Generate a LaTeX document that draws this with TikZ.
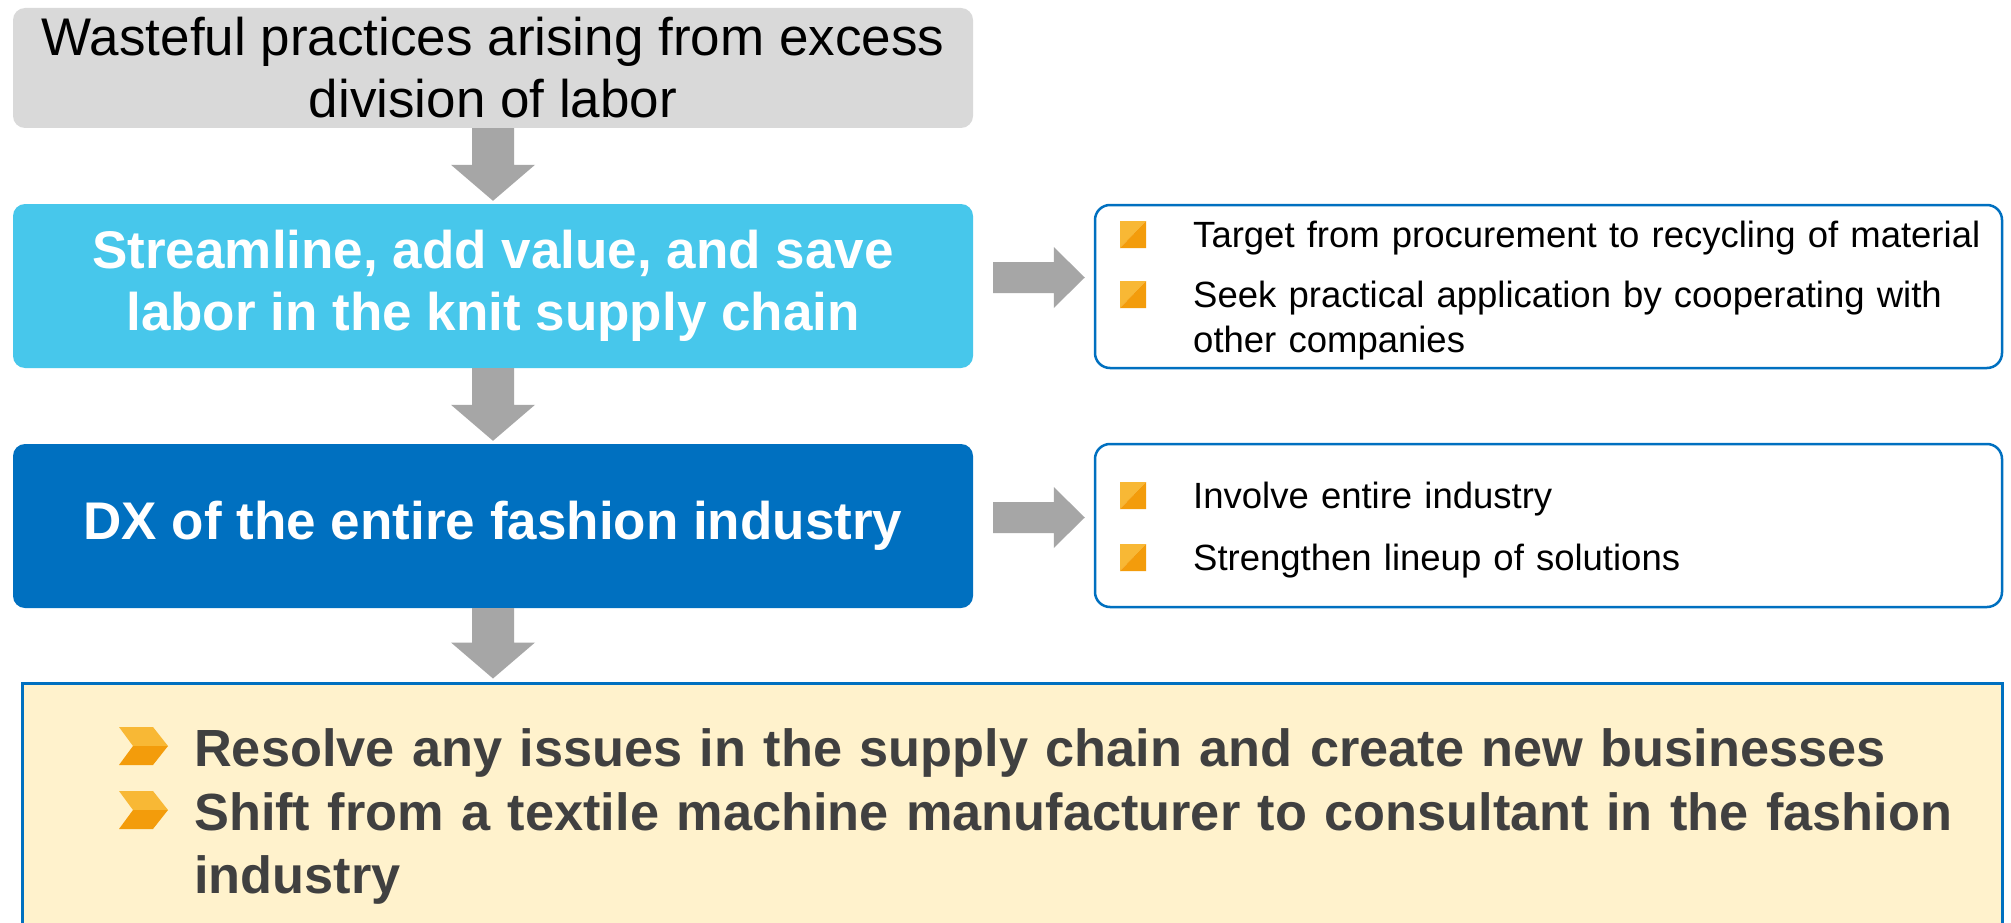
\documentclass[tikz,border=0pt]{standalone}
\usepackage{fontspec}
\setmainfont{Liberation Sans}
\usetikzlibrary{calc}
\definecolor{graybox}{HTML}{D9D9D9}
\definecolor{cyanbox}{HTML}{47C7EB}
\definecolor{bluebox}{HTML}{0070C0}
\definecolor{arrowgray}{HTML}{A6A6A6}
\definecolor{cream}{HTML}{FFF2CC}
\definecolor{darktext}{HTML}{404040}
\definecolor{orangelight}{HTML}{F8B835}
\definecolor{orangedark}{HTML}{F39C0B}
\newcommand\downblock[2]{%
  \fill[arrowgray] let \p1=(#1.south), \p2=(#2.north) in
    (\x1-21pt,\y1) -- (\x1+21pt,\y1) -- (\x1+21pt,\y2+39pt) -- (\x1+42pt,\y2+39pt)
    -- (\x1,\y2+3pt) -- (\x1-42pt,\y2+39pt) -- (\x1-21pt,\y2+39pt) -- cycle;}
\newcommand\rightblock[2]{%
  \fill[arrowgray] let \p1=(#1.east), \p2=(#2.west) in
    (\x1+20pt,\y1+24pt) -- (\x2-40pt,\y1+24pt) -- (\x2-40pt,\y1+39pt) -- (\x2-9pt,\y1+8.5pt)
    -- (\x2-40pt,\y1-22pt) -- (\x2-40pt,\y1-7pt) -- (\x1+20pt,\y1-7pt) -- cycle;}
\newcommand\sqbul[2]{%
  \fill[orangelight] (#1-73,#2+1) -- (#1-73,#2-26) -- (#1-47,#2-26) -- cycle;
  \fill[orangedark] (#1-73,#2+1) -- (#1-47,#2-26) -- (#1-47,#2+1) -- cycle;}
\newcommand\chevbul[1]{%
  \fill[orangelight] (119,#1-38) -- (153,#1-38) -- (168,#1-19) -- (133,#1-19) -- cycle;
  \fill[orangedark] (133,#1-19) -- (168,#1-19) -- (153,#1) -- (119,#1) -- cycle;}
\begin{document}
\begin{tikzpicture}[x=1pt,y=-1pt,
  mainbox/.style={rounded corners=12pt, minimum width=960pt, minimum height=#1,
    inner sep=0pt, align=center},
  regtext/.style={font=\fontsize{53}{62}\selectfont},
  boldtext/.style={font=\fontsize{53}{62}\selectfont\bfseries, text=white},
  sidebox/.style={draw=bluebox, line width=2.5pt, rounded corners=15pt, fill=white,
    minimum width=907pt, minimum height=163pt, inner sep=0pt},
  sidetext/.style={anchor=base west, inner sep=0pt, align=left, text width=800pt,
    font=\fontsize{36.5}{45}\selectfont, text=black},
  restext/.style={anchor=base west, inner sep=0pt, align=left, text width=1790pt,
    font=\fontsize{52.3}{63}\selectfont\bfseries, text=darktext}]
\useasboundingbox (0,0) rectangle (2011,923);
\fill[white] (0,0) rectangle (2011,923);

\node[mainbox=120pt, fill=graybox, regtext] (waste) at (493,68)
  {Wasteful practices arising from excess\\division of labor};
\node[mainbox=164pt, fill=cyanbox, boldtext] (stream) at (493,286)
  {Streamline, add value, and save\\labor in the knit supply chain};
\node[mainbox=164pt, fill=bluebox, boldtext] (dx) at (493,526)
  {DX of the entire fashion industry};

\node[sidebox] (side1) at (1548.5,286.5) {};
\node[sidebox] (side2) at (1548.5,525.5) {};
\node[draw=bluebox, line width=3pt, fill=cream, minimum width=1980pt,
  minimum height=290pt, inner sep=0pt] (result) at (1012,828) {};

\downblock{waste}{stream}
\downblock{stream}{dx}
\downblock{dx}{result}
\rightblock{stream}{side1}
\rightblock{dx}{side2}

\node[sidetext] (t1a) at (1193,247) {Target from procurement to recycling of material};
\node[sidetext] (t1b) at (1193,307) {Seek practical application by cooperating with\\other companies};
\node[sidetext] (t2a) at (1193,508) {Involve entire industry};
\node[sidetext] (t2b) at (1193,570) {Strengthen lineup of solutions};
\sqbul{1193}{247}
\sqbul{1193}{307}
\sqbul{1193}{508}
\sqbul{1193}{570}

\node[restext] (r1) at (194,766) {Resolve any issues in the supply chain and create new businesses};
\node[restext] (r2) at (194,830) {Shift from a textile machine manufacturer to consultant in the fashion\\industry};
\chevbul{765}
\chevbul{829}
\end{tikzpicture}
\end{document}
